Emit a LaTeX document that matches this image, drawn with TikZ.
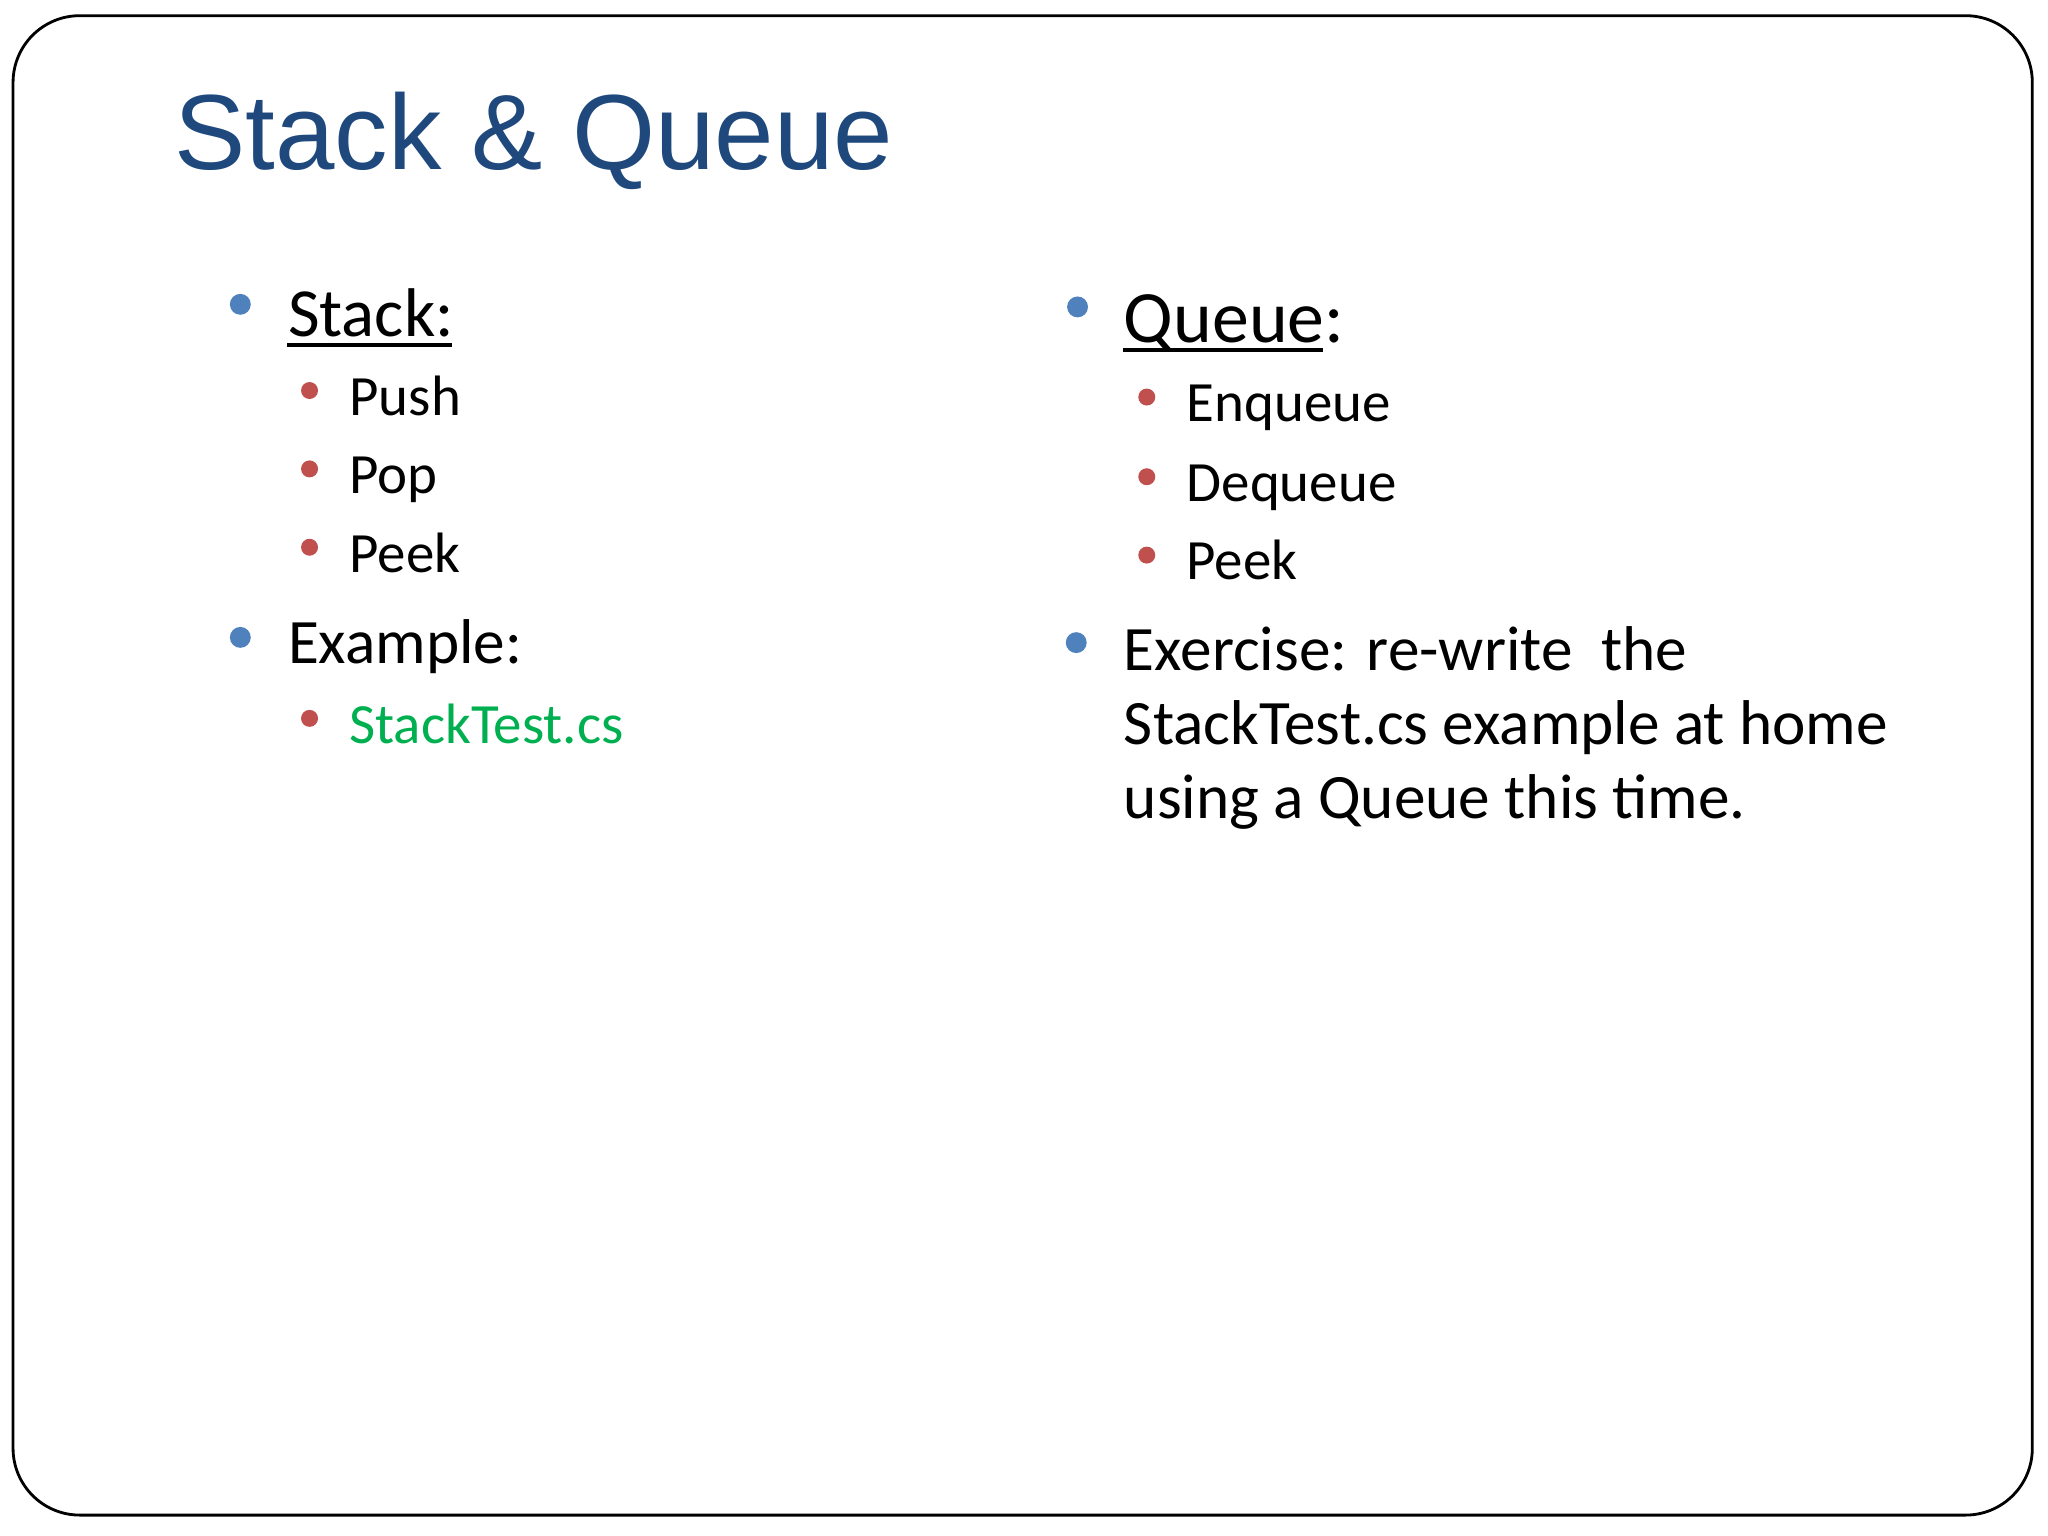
\documentclass[tikz,border=0pt]{standalone}
\usepackage{fontspec}
\setmainfont{Carlito}
\newfontfamily\titlefont{Liberation Sans}
\definecolor{titleblue}{RGB}{31,73,125}
\definecolor{bblue}{RGB}{79,129,189}
\definecolor{bred}{RGB}{192,80,77}
\definecolor{cgreen}{RGB}{0,176,80}
\begin{document}
\begin{tikzpicture}[x=0.01306cm,y=-0.01306cm,
  txt/.style={anchor=base west,inner sep=0pt,font=#1},
  bl/.style={fill=bblue,draw=none},
  rd/.style={fill=bred,draw=none}]
\useasboundingbox (0,0) rectangle (1568,1176);
\draw[rounded corners=19pt,line width=0.8pt] (10,12) rectangle (1556,1160);
\node[txt={\titlefont\fontsize{30.4}{36}\selectfont},text=titleblue] (title) at (133,130) {Stack \& Queue};
% left column
\fill[bl] (184,233) circle (8);
\node[txt={\fontsize{19.6}{24}\selectfont}] (stack) at (220,258) {Stack:};
\draw[line width=1.2pt] (stack.base west)++(0,6) coordinate (su1) -- ++(126,0) coordinate (su2);
\foreach \t/\y [count=\i] in {Push/318,Pop/378,Peek/438}{
  \fill[rd] (237,\y-19) circle (6.5);
  \node[txt={\fontsize{16.2}{20}\selectfont}] (l\i) at (267,\y) {\t};
}
\fill[bl] (184,488) circle (8);
\node[txt={\fontsize{18}{22}\selectfont}] (ex) at (220,508) {Example:};
\fill[rd] (237,550) circle (6.5);
\node[txt={\fontsize{16.2}{20}\selectfont},text=cgreen] (st) at (267,569) {StackTest.cs};
% right column
\fill[bl] (825,235) circle (8);
\node[txt={\fontsize{21}{26}\selectfont}] (queue) at (860,262) {Queue:};
\draw[line width=1.2pt] (queue.base west)++(0,6) coordinate (qu1) -- ++(153,0) coordinate (qu2);
\foreach \t/\y [count=\i] in {Enqueue/323,Dequeue/384,Peek/444}{
  \fill[rd] (878,\y-19) circle (6.5);
  \node[txt={\fontsize{16.2}{20}\selectfont}] (r\i) at (908,\y) {\t};
}
\fill[bl] (824,492) circle (8);
\node[txt={\fontsize{18}{22}\selectfont}] (e1) at (860,513) {Exercise: re-write\ \ the};
\node[txt={\fontsize{18}{22}\selectfont}] (e2) at (860,570) {StackTest.cs example at home};
\node[txt={\fontsize{18}{22}\selectfont}] (e3) at (860,627) {using a Queue this time.};
\end{tikzpicture}
\end{document}
